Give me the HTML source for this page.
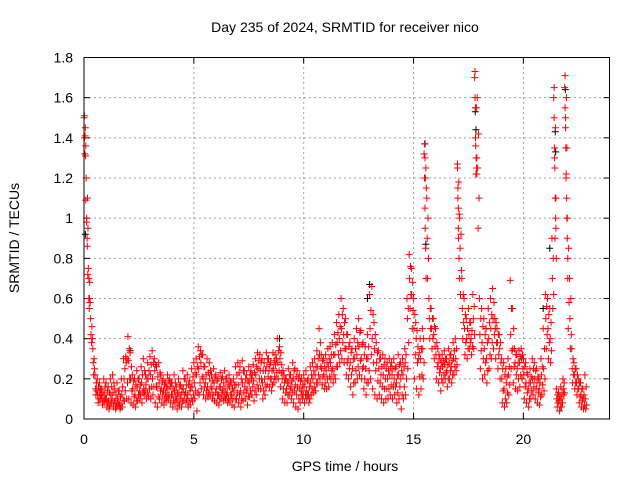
<!DOCTYPE html>
<html><head><meta charset="utf-8"><style>
body{margin:0;background:#fff;}
svg{display:block;font-family:"Liberation Sans",sans-serif;}
</style></head><body>
<svg id="chart" width="640" height="480" viewBox="0 0 640 480">
<rect width="640" height="480" fill="#fff"/>
<text x="345" y="32" font-size="14" text-anchor="middle">Day 235 of 2024, SRMTID for receiver nico</text>
<text x="345" y="471" font-size="14" text-anchor="middle">GPS time / hours</text>
<text transform="translate(19,238) rotate(-90)" font-size="14" text-anchor="middle">SRMTID / TECUs</text>
<g id="grid"></g><g id="axes"></g><g id="marks"></g>
<rect x="84" y="57.5" width="525.5" height="361.5" fill="none" stroke="#000" stroke-width="1"/>
</svg>
<script>
const xTicks=[0,5,10,15,20];
const yTicks=[0,0.2,0.4,0.6,0.8,1,1.2,1.4,1.6,1.8];
const yTickLabels=["0","0.2","0.4","0.6","0.8","1","1.2","1.4","1.6","1.8"];
const seriesA=[1.5,1.2,0.75,0.5,0.35,0.22,0.2,0.18,0.15,0.2,
0.18,0.16,0.2,0.22,0.15,0.18,0.14,0.2,0.3,0.31,
0.41,0.33,0.22,0.2,0.24,0.2,0.26,0.3,0.22,0.28,
0.31,0.34,0.3,0.26,0.28,0.22,0.2,0.18,0.22,0.2,
0.18,0.22,0.16,0.2,0.17,0.24,0.2,0.22,0.19,0.25,
0.28,0.3,0.36,0.34,0.32,0.26,0.3,0.28,0.22,0.25,
0.22,0.2,0.23,0.21,0.24,0.2,0.22,0.18,0.2,0.26,
0.28,0.26,0.29,0.24,0.22,0.26,0.24,0.27,0.3,0.33,
0.32,0.3,0.28,0.33,0.3,0.28,0.33,0.32,0.4,0.36,
0.27,0.22,0.2,0.25,0.22,0.28,0.25,0.24,0.22,0.2,
0.22,0.24,0.2,0.26,0.28,0.3,0.34,0.45,0.32,0.3,
0.32,0.35,0.36,0.38,0.42,0.48,0.52,0.6,0.55,0.5,
0.42,0.38,0.35,0.4,0.45,0.5,0.44,0.38,0.36,0.42,
0.62,0.66,0.48,0.38,0.34,0.3,0.32,0.3,0.28,0.3,
0.28,0.3,0.26,0.32,0.28,0.3,0.35,0.6,0.82,0.75,
0.6,0.48,0.36,0.4,0.45,1.37,1.1,0.6,0.55,0.5,
0.45,0.35,0.3,0.32,0.34,0.3,0.35,0.32,0.38,0.4,
1.27,1.0,0.7,0.6,0.5,0.55,0.48,0.62,1.73,1.6,
0.6,0.55,0.5,0.45,0.55,0.6,0.65,0.5,0.45,0.42,
0.3,0.28,0.25,0.3,0.69,0.55,0.35,0.32,0.34,0.35,
0.3,0.28,0.22,0.25,0.3,0.28,0.25,0.2,0.3,0.45,
0.62,0.6,0.55,0.9,1.65,0.15,0.13,0.16,0.2,1.71,
1.0,0.7,0.35,0.28,0.25,0.2,0.18,0.15,0.22];
const seriesB=[1.4,1.0,0.6,0.42,0.28,0.15,0.12,0.13,0.1,0.12,
0.1,0.09,0.12,0.13,0.08,0.1,0.07,0.12,0.2,0.28,
0.29,0.2,0.15,0.12,0.16,0.14,0.18,0.15,0.17,0.2,
0.22,0.2,0.24,0.16,0.18,0.15,0.14,0.13,0.15,0.16,
0.12,0.14,0.1,0.13,0.12,0.15,0.13,0.12,0.14,0.16,
0.18,0.22,0.25,0.28,0.2,0.18,0.16,0.2,0.15,0.18,
0.15,0.12,0.16,0.14,0.15,0.13,0.16,0.12,0.14,0.17,
0.17,0.14,0.18,0.16,0.15,0.18,0.2,0.19,0.22,0.25,
0.24,0.18,0.2,0.26,0.24,0.2,0.25,0.27,0.28,0.3,
0.2,0.18,0.15,0.18,0.16,0.2,0.17,0.16,0.15,0.14,
0.16,0.14,0.12,0.18,0.2,0.22,0.26,0.32,0.25,0.22,
0.24,0.26,0.28,0.25,0.32,0.38,0.4,0.45,0.42,0.35,
0.3,0.28,0.25,0.3,0.32,0.36,0.3,0.26,0.25,0.3,
0.45,0.4,0.35,0.28,0.25,0.22,0.22,0.2,0.2,0.22,
0.22,0.2,0.18,0.22,0.2,0.22,0.28,0.5,0.7,0.62,
0.45,0.4,0.3,0.3,0.35,1.3,0.9,0.5,0.45,0.42,
0.32,0.28,0.25,0.26,0.27,0.24,0.28,0.26,0.3,0.3,
1.1,0.85,0.55,0.45,0.4,0.42,0.4,0.5,1.4,1.25,
0.42,0.38,0.35,0.3,0.4,0.45,0.5,0.45,0.38,0.35,
0.2,0.15,0.18,0.22,0.42,0.35,0.28,0.25,0.28,0.3,
0.22,0.18,0.15,0.18,0.2,0.2,0.18,0.15,0.22,0.25,
0.5,0.45,0.4,0.7,1.3,0.1,0.09,0.1,0.15,1.5,
0.7,0.5,0.25,0.22,0.18,0.15,0.12,0.1,0.1];
const seriesC=[1.32,0.9,0.55,0.38,0.22,0.12,0.08,0.1,0.07,0.09,
0.06,0.05,0.08,0.06,0.05,0.07,0.05,0.06,0.09,0.1,
0.1,0.08,0.07,0.06,0.09,0.1,0.08,0.12,0.1,0.11,
0.1,0.12,0.08,0.06,0.1,0.08,0.07,0.09,0.1,0.08,
0.06,0.08,0.05,0.07,0.06,0.09,0.08,0.06,0.07,0.09,
0.1,0.04,0.12,0.15,0.12,0.1,0.11,0.12,0.1,0.09,
0.08,0.07,0.1,0.09,0.1,0.08,0.09,0.07,0.06,0.1,
0.08,0.06,0.09,0.1,0.07,0.11,0.12,0.09,0.12,0.15,
0.15,0.1,0.12,0.17,0.16,0.14,0.18,0.2,0.2,0.16,
0.1,0.08,0.08,0.12,0.1,0.08,0.06,0.05,0.08,0.1,
0.08,0.1,0.08,0.12,0.13,0.14,0.18,0.2,0.17,0.15,
0.15,0.16,0.2,0.18,0.2,0.26,0.28,0.3,0.28,0.22,
0.2,0.16,0.12,0.18,0.2,0.22,0.2,0.15,0.12,0.18,
0.2,0.15,0.12,0.1,0.12,0.1,0.08,0.1,0.1,0.12,
0.1,0.12,0.08,0.1,0.05,0.1,0.12,0.25,0.55,0.45,
0.2,0.15,0.12,0.15,0.2,1.2,0.7,0.4,0.35,0.3,
0.2,0.18,0.14,0.18,0.2,0.16,0.2,0.18,0.22,0.24,
0.95,0.62,0.4,0.32,0.3,0.35,0.32,0.35,1.22,0.95,
0.25,0.2,0.22,0.18,0.25,0.3,0.35,0.3,0.25,0.2,
0.08,0.06,0.08,0.12,0.25,0.18,0.15,0.14,0.16,0.2,
0.1,0.08,0.06,0.1,0.12,0.1,0.08,0.07,0.12,0.14,
0.35,0.3,0.28,0.55,0.9,0.06,0.04,0.06,0.12,1.2,
0.45,0.35,0.18,0.15,0.12,0.08,0.06,0.05,0.05];
const seriesD=[1.45,1.1,0.68,0.46,0.3,0.18,0.16,0.15,0.13,0.16,
0.14,0.13,0.16,0.18,0.12,0.14,0.11,0.16,0.25,0.3,
0.35,0.26,0.19,0.17,0.2,0.17,0.22,0.24,0.2,0.24,
0.27,0.28,0.27,0.21,0.23,0.19,0.17,0.16,0.19,0.18,
0.15,0.18,0.13,0.17,0.15,0.2,0.17,0.17,0.16,0.21,
0.23,0.26,0.31,0.32,0.26,0.22,0.23,0.24,0.19,0.21,
0.19,0.16,0.2,0.18,0.2,0.17,0.19,0.15,0.17,0.22,
0.23,0.2,0.24,0.2,0.19,0.22,0.22,0.23,0.26,0.29,
0.28,0.24,0.24,0.3,0.27,0.24,0.29,0.3,0.34,0.33,
0.24,0.2,0.18,0.22,0.19,0.24,0.21,0.2,0.19,0.17,
0.19,0.19,0.16,0.22,0.24,0.26,0.3,0.38,0.29,0.26,
0.28,0.3,0.32,0.32,0.37,0.43,0.46,0.52,0.48,0.42,
0.36,0.33,0.3,0.35,0.38,0.43,0.37,0.32,0.3,0.36,
0.54,0.52,0.42,0.33,0.3,0.26,0.27,0.25,0.24,0.26,
0.25,0.25,0.22,0.27,0.24,0.26,0.32,0.55,0.76,0.68,
0.52,0.44,0.33,0.35,0.4,1.25,1.0,0.55,0.5,0.46,
0.38,0.32,0.28,0.29,0.3,0.27,0.32,0.29,0.34,0.35,
1.18,0.92,0.62,0.52,0.45,0.48,0.44,0.56,1.55,1.42,
0.5,0.46,0.42,0.38,0.48,0.52,0.58,0.48,0.42,0.38,
0.25,0.22,0.21,0.26,0.55,0.45,0.32,0.28,0.31,0.32,
0.26,0.23,0.18,0.21,0.25,0.24,0.21,0.18,0.26,0.35,
0.56,0.52,0.48,0.8,1.45,0.12,0.11,0.13,0.18,1.6,
0.85,0.6,0.3,0.25,0.22,0.18,0.15,0.12,0.16];
const seriesE=[1.36,0.95,0.58,0.4,0.25,0.14,0.1,0.12,0.09,0.1,
0.08,0.07,0.1,0.09,0.06,0.08,0.06,0.09,0.14,0.18,
0.2,0.14,0.11,0.09,0.12,0.12,0.13,0.14,0.13,0.15,
0.16,0.16,0.16,0.11,0.14,0.12,0.1,0.11,0.12,0.12,
0.09,0.11,0.08,0.1,0.09,0.12,0.1,0.09,0.1,0.12,
0.14,0.13,0.18,0.21,0.16,0.14,0.13,0.16,0.12,0.13,
0.12,0.1,0.13,0.11,0.12,0.1,0.12,0.1,0.1,0.13,
0.12,0.1,0.13,0.13,0.11,0.14,0.16,0.14,0.17,0.2,
0.2,0.14,0.16,0.21,0.2,0.17,0.21,0.23,0.24,0.23,
0.15,0.13,0.12,0.15,0.13,0.14,0.12,0.1,0.12,0.12,
0.12,0.12,0.1,0.15,0.16,0.18,0.22,0.26,0.21,0.18,
0.2,0.21,0.24,0.22,0.26,0.32,0.34,0.38,0.35,0.28,
0.25,0.22,0.18,0.24,0.26,0.29,0.25,0.2,0.18,0.24,
0.32,0.28,0.24,0.19,0.18,0.16,0.15,0.15,0.15,0.17,
0.16,0.16,0.13,0.16,0.12,0.16,0.2,0.38,0.62,0.54,
0.32,0.28,0.21,0.22,0.28,1.15,0.8,0.45,0.4,0.36,
0.26,0.23,0.2,0.22,0.23,0.2,0.24,0.22,0.26,0.27,
1.02,0.74,0.48,0.38,0.35,0.38,0.36,0.42,1.3,1.1,
0.34,0.3,0.28,0.24,0.32,0.38,0.42,0.38,0.32,0.28,
0.14,0.1,0.13,0.17,0.34,0.26,0.22,0.2,0.22,0.25,
0.16,0.13,0.1,0.14,0.16,0.15,0.13,0.11,0.17,0.2,
0.42,0.38,0.34,0.62,1.1,0.08,0.06,0.08,0.13,1.35,
0.58,0.42,0.22,0.18,0.15,0.11,0.09,0.07,0.07];
const spikeTimes=[0.02,0.05,0.07,0.08,0.12,0.15,0.17,0.22,0.25,0.27,15.48,15.5,15.52,15.53,15.55,15.57,17.0,17.02,17.04,17.05,17.07,17.09,17.78,17.8,17.82,17.83,17.85,17.87,17.88,21.38,21.4,21.42,21.43,21.45,21.47,21.48,21.5,21.88,21.9,21.92,21.93,21.95,21.97,21.98,22.0,22.02];
const spikeValues=[1.51,1.41,1.31,1.09,0.98,0.86,0.72,0.7,0.6,0.58,1.32,1.2,1.05,0.95,0.85,0.7,1.25,1.15,1.05,0.9,0.8,0.7,1.7,1.6,1.55,1.36,1.3,1.25,1.22,1.6,1.5,1.35,1.25,1.1,1.0,0.95,0.8,1.65,1.55,1.45,1.35,1.22,1.1,1.0,0.9,0.8];
const blackTimes=[0.06,2.1,8.9,13.0,15.52,15.56,17.81,17.84,21.2,21.45,21.47,21.91,12.9,18.3,20.9];
const blackValues=[0.92,0.34,0.4,0.67,1.37,0.87,1.53,1.44,0.85,1.43,1.33,1.64,0.6,0.45,0.55];

const X0=84,X1=609.5,Y0=419,Y1=57.5,XMAX=23.92,YMAX=1.8;
const xs=v=>X0+(X1-X0)*v/XMAX;
const ys=v=>Y0-(Y0-Y1)*v/YMAX;
const NS="http://www.w3.org/2000/svg";
const grid=document.getElementById('grid'),axes=document.getElementById('axes'),marks=document.getElementById('marks');
function mk(tag,attrs,parent){const e=document.createElementNS(NS,tag);for(const k in attrs)e.setAttribute(k,attrs[k]);parent.appendChild(e);return e;}
yTicks.forEach((v,i)=>{
  const y=ys(v);
  if(i>0&&i<yTicks.length-1){const g=mk('line',{x1:X0,x2:X1,y1:y,y2:y,stroke:'#a0a0a0','stroke-dasharray':'2,3','stroke-width':1},grid);
  
  }
  mk('line',{x1:X0,x2:X0+6,y1:y,y2:y,stroke:'#000'},axes);
  mk('line',{x1:X1-6,x2:X1,y1:y,y2:y,stroke:'#000'},axes);
  const t=mk('text',{x:73,y:y+5,'font-size':14,'text-anchor':'end'},axes);
  t.textContent=yTickLabels[i];
  
  
});
xTicks.forEach((v,i)=>{
  const x=xs(v);
  if(i>0){const g=mk('line',{x1:x,x2:x,y1:Y0,y2:Y1,stroke:'#a0a0a0','stroke-dasharray':'2,3','stroke-width':1},grid);
  
  }
  mk('line',{x1:x,x2:x,y1:Y0,y2:Y0-6,stroke:'#000'},axes);
  mk('line',{x1:x,x2:x,y1:Y1,y2:Y1+6,stroke:'#000'},axes);
  const t=mk('text',{x:x,y:444,'font-size':14,'text-anchor':'middle'},axes);
  t.textContent=String(v);
  
  
});
function cross(t,v,color,name){
  const x=xs(t),y=ys(v);
  const p=mk('path',{d:`M${x-3.5} ${y}h7M${x} ${y-3.5}v7`,stroke:color,'stroke-width':1,fill:'none'},marks);
  
  
}
blackTimes.forEach((t,i)=>cross(t,blackValues[i],'#000','black-point'));
[seriesA,seriesB,seriesC,seriesD,seriesE].forEach((s,k)=>s.forEach((v,i)=>cross(i*0.1+k*0.02,v,'#ff0000','red-point')));
spikeTimes.forEach((t,i)=>cross(t,spikeValues[i],'#ff0000','red-spike-point'));
</script>
</body></html>
